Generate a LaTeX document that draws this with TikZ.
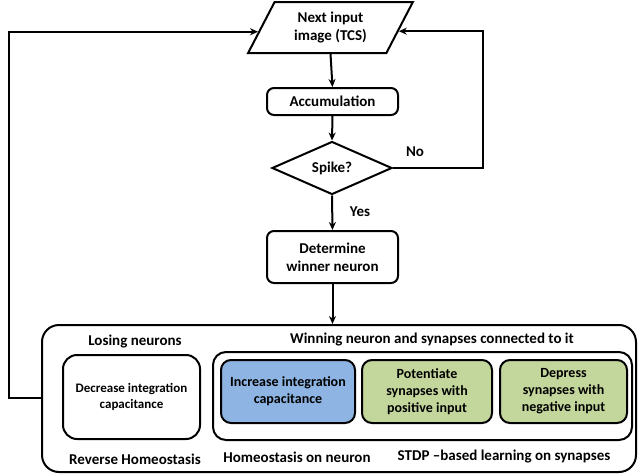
\documentclass[tikz,border=0pt]{standalone}
\usepackage{fontspec}
\setmainfont{Carlito}
\usetikzlibrary{shapes.geometric,arrows.meta,calc}
\definecolor{bluefill}{RGB}{141,180,226}
\definecolor{greenfill}{RGB}{195,214,155}
\begin{document}
\begin{tikzpicture}[x=1pt,y=-1pt,line width=2pt,
  txt/.style={font=\bfseries\fontsize{15}{18}\selectfont,align=center},
  mid/.style={font=\bfseries\fontsize{14}{17}\selectfont},
  small/.style={font=\bfseries\fontsize{13}{16.5}\selectfont},
  box/.style={txt,draw,rounded corners=7pt,inner sep=0pt},
  lbl/.style={txt,inner sep=0pt},
  arr/.style={-{Stealth[length=8pt,width=7pt]}}]
\useasboundingbox (0,0) rectangle (638,474);
% flow nodes
\node[txt,draw,trapezium,trapezium left angle=61,trapezium right angle=119,
      trapezium stretches=true,minimum width=165pt,minimum height=51pt,inner sep=0pt]
      (inp) at (330.5,27.5) {Next input\\image (TCS)};
\node[box,minimum width=131pt,minimum height=27pt] (acc) at (332.5,101.5) {Accumulation};
\node[txt,draw,diamond,minimum width=120pt,minimum height=50pt,inner sep=0pt] (spike) at (332,168) {Spike?};
\node[box,minimum width=131pt,minimum height=52pt] (det) at (332.5,257) {Determine\\winner neuron};
% bottom block
\node[draw,rounded corners=17pt,minimum width=594pt,minimum height=147pt,inner sep=0pt] (outer) at (339,398.5) {};
\node[draw,rounded corners=13pt,minimum width=419pt,minimum height=88pt,inner sep=0pt] (group) at (422.5,396) {};
\node[box,small,rounded corners=14pt,minimum width=137pt,minimum height=84pt] (lose) at (131.5,397) {Decrease integration\\capacitance};
\node[box,mid,rounded corners=10pt,fill=bluefill,minimum width=134pt,minimum height=63pt] (inc) at (288,391.5) {Increase integration\\capacitance};
\node[box,mid,rounded corners=10pt,fill=greenfill,minimum width=130pt,minimum height=63pt] (pot) at (427,391.5) {Potentiate\\synapses with\\positive input};
\node[box,mid,rounded corners=10pt,fill=greenfill,minimum width=127pt,minimum height=63pt] (dep) at (563.5,391.5) {Depress\\synapses with\\negative input};
% labels
\node[lbl] (l1) at (135,342) {Losing neurons};
\node[lbl] (l2) at (432,340) {Winning neuron and synapses connected to it};
\node[lbl] (l3) at (135,459) {Reverse Homeostasis};
\node[lbl] (l4) at (297,457) {Homeostasis on neuron};
\node[lbl] (l5) at (504,457) {STDP –based learning on synapses};
\node[lbl] (no) at (415,152) {No};
\node[lbl] (yes) at (360,212) {Yes};
% coordinates
\coordinate (inL) at ($(inp.top left corner)!0.58!(inp.bottom left corner)$);
\coordinate (inR) at ($(inp.top right corner)!0.57!(inp.bottom right corner)$);
\coordinate (lp) at (9,398);
\coordinate (rp) at (483,168);
% connectors
\draw[arr] (inp.south) -- (acc.north);
\draw[arr] (acc.south) -- (spike.north);
\draw[arr] (spike.south) -- (det.north);
\draw[arr] (det.south) -- (det.south |- outer.north);
\draw[arr] (spike.east) -- (rp) |- (inR);
\draw[arr] (outer.west |- lp) -- (lp) |- (inL);
\end{tikzpicture}
\end{document}
